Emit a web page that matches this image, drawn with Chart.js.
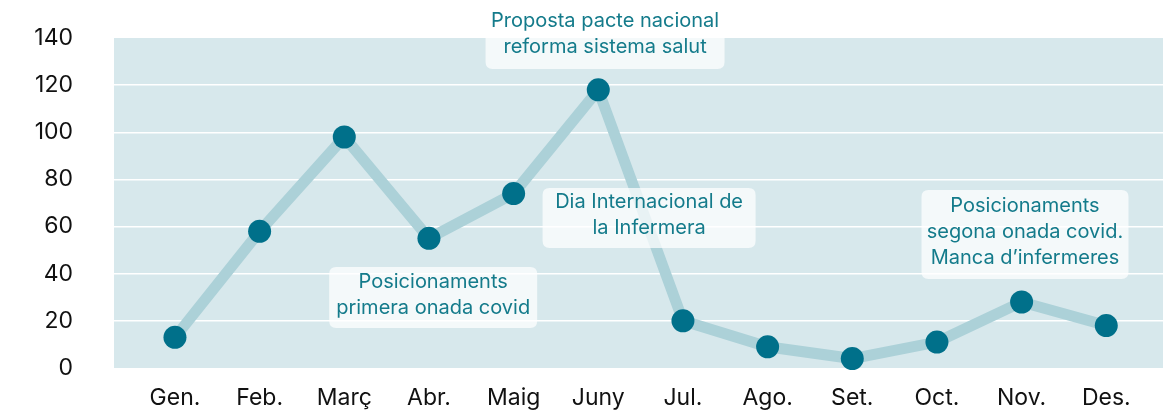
<!DOCTYPE html>
<html>
<head>
<meta charset="utf-8">
<script src="https://cdn.jsdelivr.net/npm/chart.js@4.4.0/dist/chart.umd.min.js"></script>
<style>
  html, body { margin: 0; padding: 0; background: #ffffff; }
  #wrap { width: 1163px; height: 413px; }
</style>
</head>
<body>
<div id="wrap"><canvas id="c" width="1163" height="413"></canvas></div>
<script>
const categories = ['Gen.', 'Feb.', 'Març', 'Abr.', 'Maig', 'Juny', 'Jul.', 'Ago.', 'Set.', 'Oct.', 'Nov.', 'Des.'];
const values = [13, 58, 98, 55, 74, 118, 20, 9, 4, 11, 28, 18];
const yTicks = [0, 20, 40, 60, 80, 100, 120, 140];

const noteLines1 = ['Proposta pacte nacional', 'reforma sistema salut'];
const noteLines2 = ['Dia Internacional de', 'la Infermera'];
const noteLines3 = ['Posicionaments', 'primera onada covid'];
const noteLines4 = ['Posicionaments', 'segona onada covid.', 'Manca d\u2019infermeres'];

const notes = [
  { lines: noteLines1, x: 5.08, y: 140.4, w: 239, h: 64 },
  { lines: noteLines2, x: 5.6, y: 63.6, w: 213, h: 60 },
  { lines: noteLines3, x: 3.05, y: 29.9, w: 208, h: 61 },
  { lines: noteLines4, x: 10.04, y: 56.6, w: 207, h: 89 }
];

const FONT = 'Inter, "Noto Sans", sans-serif';

const bgPlugin = {
  id: 'bg',
  beforeDraw(chart) {
    const { ctx, chartArea: a } = chart;
    ctx.save();
    ctx.fillStyle = '#d7e8ec';
    ctx.fillRect(a.left, a.top, a.right - a.left, a.bottom - a.top);
    ctx.restore();
  }
};

function roundRect(ctx, x, y, w, h, r) {
  ctx.beginPath();
  ctx.moveTo(x + r, y);
  ctx.lineTo(x + w - r, y);
  ctx.quadraticCurveTo(x + w, y, x + w, y + r);
  ctx.lineTo(x + w, y + h - r);
  ctx.quadraticCurveTo(x + w, y + h, x + w - r, y + h);
  ctx.lineTo(x + r, y + h);
  ctx.quadraticCurveTo(x, y + h, x, y + h - r);
  ctx.lineTo(x, y + r);
  ctx.quadraticCurveTo(x, y, x + r, y);
  ctx.closePath();
}

const notePlugin = {
  id: 'notes',
  afterDatasetsDraw(chart) {
    const { ctx, scales } = chart;
    ctx.save();
    notes.forEach(n => {
      const cx = scales.x.getPixelForValue(n.x);
      const cy = scales.y.getPixelForValue(n.y);
      ctx.fillStyle = 'rgba(255,255,255,0.72)';
      roundRect(ctx, cx - n.w / 2, cy - n.h / 2, n.w, n.h, 7);
      ctx.fill();
      ctx.fillStyle = '#147b8b';
      ctx.font = '20px ' + FONT;
      ctx.textAlign = 'center';
      ctx.textBaseline = 'middle';
      const m = n.lines.length;
      n.lines.forEach((t, i) => {
        ctx.fillText(t, cx, cy + (i - (m - 1) / 2) * 26 - 3);
      });
    });
    ctx.restore();
  }
};

new Chart(document.getElementById('c'), {
  type: 'line',
  data: {
    datasets: [{
      data: values.map((v, i) => ({ x: i, y: v })),
      borderColor: '#acd1d8',
      borderWidth: 11,
      pointBackgroundColor: '#00708a',
      pointBorderColor: '#00708a',
      pointBorderWidth: 0,
      pointRadius: 11.5,
      pointHoverRadius: 11.5,
      tension: 0,
      fill: false,
      clip: false
    }]
  },
  options: {
    responsive: false,
    animation: false,
    events: [],
    layout: { autoPadding: false, padding: { top: 38, left: 0, right: 0, bottom: 0 } },
    plugins: { legend: { display: false }, tooltip: { enabled: false } },
    scales: {
      x: {
        type: 'linear',
        min: -0.72,
        max: 11.67,
        afterBuildTicks(s) { s.ticks = categories.map((_, i) => ({ value: i })); },
        afterFit(s) { s.height = 45; s.paddingLeft = 0; s.paddingRight = 0; },
        grid: { display: false, drawTicks: false },
        border: { display: false },
        ticks: {
          padding: 16,
          color: '#111111',
          font: { family: FONT, size: 23 },
          callback: (v) => categories[v],
          maxRotation: 0,
          autoSkip: false
        }
      },
      y: {
        min: 0,
        max: 140,
        afterBuildTicks(s) { s.ticks = yTicks.map(v => ({ value: v })); },
        afterFit(s) { s.width = 114; s.paddingTop = 0; s.paddingBottom = 0; },
        grid: {
          color: (c) => (c.tick && (c.tick.value === 0 || c.tick.value === 140)) ? 'rgba(0,0,0,0)' : '#ffffff',
          lineWidth: 1.5,
          drawTicks: false
        },
        border: { display: false },
        ticks: {
          padding: 41,
          color: '#111111',
          font: { family: FONT, size: 23 }
        }
      }
    }
  },
  plugins: [bgPlugin, notePlugin]
});
</script>
</body>
</html>
